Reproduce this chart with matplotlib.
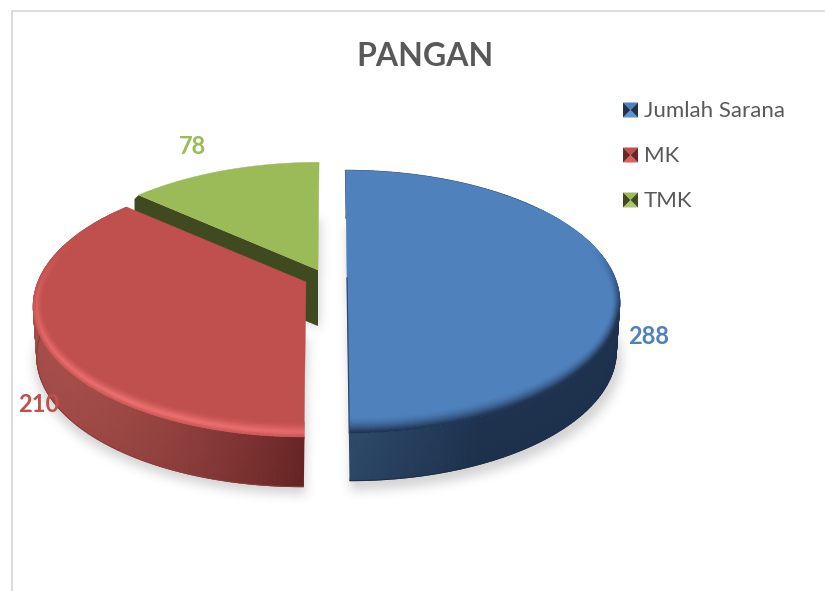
import numpy as np
import matplotlib
matplotlib.use("Agg")
import matplotlib.pyplot as plt
from matplotlib.colors import to_rgb
from matplotlib.path import Path

title = "PANGAN"
categories = ["Jumlah Sarana", "MK", "TMK"]
values = [288, 210, 78]

# colours per slice
top_colors = ["#4f81bd", "#c0504d", "#9bbb59"]
side_left = ["#2e4a6b", "#a84f4b", "#3f4a20"]
side_right = ["#1f3350", "#692626", "#3f4a20"]

# exploded slice geometry, in pixels
apex_x = [347, 306, 318]
apex_y = [278, 282, 270]
lean = [0.015, -0.013, -0.01]
depth = [48, 50, 56]
label_pos = [(649, 336), (39, 405), (193, 146)]
A, B, K = 268, 127, 0.179

fig = plt.figure(figsize=(8.25, 5.91), dpi=100)
ax = fig.add_axes([0, 0, 1, 1])
ax.set_xlim(0, 825)
ax.set_ylim(591, 0)
ax.axis("off")
plt.rcParams["font.family"] = ["Lato", "DejaVu Sans"]


def project(i, theta):
    u, v = np.cos(theta), np.sin(theta)
    d = 1 + K * v
    y = apex_y[i] - B * v / d
    x = apex_x[i] + A * u / d + lean[i] * (y - apex_y[i])
    return x, y


def mix(c1, c2, t):
    t = np.asarray(t)[..., None]
    return np.array(to_rgb(c1)) * (1 - t) + np.array(to_rgb(c2)) * t


def blur(img, size, passes=3):
    kernel = np.ones(size) / size
    for _ in range(passes):
        img = np.apply_along_axis(lambda r: np.convolve(r, kernel, mode="same"), 0, img)
        img = np.apply_along_axis(lambda r: np.convolve(r, kernel, mode="same"), 1, img)
    return img


# slice angles, clockwise from 12 o'clock
fractions = np.array(values) / sum(values)
ends = np.pi / 2 - 2 * np.pi * np.cumsum(fractions)
starts = np.r_[np.pi / 2, ends[:-1]]
thetas = [np.linspace(s, e, 160) for s, e in zip(starts, ends)]

# soft shadow below the slices
gx, gy = np.meshgrid(np.arange(825) + 0.5, np.arange(591) + 0.5)
grid = np.c_[gx.ravel(), gy.ravel()]
mask = np.zeros(gx.shape)
for i, th in enumerate(thetas):
    x, y = project(i, th)
    poly = np.c_[np.r_[x, apex_x[i]], np.r_[y, apex_y[i]] + 56]
    mask = np.maximum(mask, Path(poly).contains_points(grid).reshape(gx.shape))
mask = blur(mask, 10)
shadow = np.zeros(gx.shape + (4,))
shadow[..., :3] = 0.5
shadow[..., 3] = mask * 0.34
ax.imshow(shadow, extent=(0, 825, 591, 0), aspect="auto", zorder=1, interpolation="bilinear")
ax.set_xlim(0, 825)
ax.set_ylim(591, 0)

# chart frame
ax.plot([11.5, 11.5, 825], [591, 10.5, 10.5], color="#d9d9d9", lw=1.3, zorder=0)


def draw_side(i, z):
    th = thetas[i]
    x, y = project(i, th)
    xb = apex_x[i] + (x - apex_x[i]) * 0.985 + lean[i] * depth[i]
    yb = y + depth[i]
    X = np.vstack([x, xb])
    Y = np.vstack([y, yb])
    if i == 0:
        t = np.clip((x - 350) / 130, 0, 1)
    else:
        t = np.clip((x - 40) / 265, 0, 1) ** 1.6
    col = mix(side_left[i], side_right[i], t)
    C = np.stack([col, col * 0.95])
    ax.pcolormesh(X, Y, C, shading="gouraud", zorder=z)
    ax.plot(xb, yb, color=col.mean(axis=0) * 0.85, lw=0.7, zorder=z)


def draw_rim(i, z):
    # bevel along the front edge of the top face
    th = thetas[i]
    x, y = project(i, th)
    s = np.linspace(0, 1, 9)[:, None]
    tx, ty = (8, 15) if i == 0 else (10, 15)
    X = x[None, :] - tx * np.cos(th)[None, :] * (1 - s)
    Y = y[None, :] + ty * np.sin(th)[None, :] * (1 - s)
    base = np.array(to_rgb(top_colors[i]))
    C = np.zeros(X.shape + (3,))
    for j, sj in enumerate(s[:, 0]):
        if i == 0:
            front = np.clip((0.25 - np.sin(th)) / 0.55, 0, 1)
            C[j] = mix(top_colors[0], "#1f3350", front * sj ** 1.6)
        else:
            light = np.clip(np.cos(th - np.radians(240)), 0, 1) ** 1.3
            light = light * np.clip((0.55 - np.sin(th)) / 0.5, 0, 1)
            dark = np.clip(np.cos(th) / 0.3, 0, 1)
            peak = np.clip(sj / 0.7, 0, 1) ** 1.5 * (1 - np.clip((sj - 0.7) / 0.3, 0, 1) * 0.75)
            rim = base + (np.array(to_rgb("#f07474")) - base) * (light * peak)[:, None]
            C[j] = rim * (1 - (dark * sj)[:, None]) + np.array(to_rgb("#692626")) * (dark * sj)[:, None]
    keep = np.sin(th) < 0.6
    ax.pcolormesh(X[:, keep], Y[:, keep], C[:, keep], shading="gouraud", zorder=z)


z = 2
# TMK sits at the back, with its dark cut face showing
for i in [2, 1, 0]:
    th = thetas[i]
    x, y = project(i, th)
    if i == 2:
        tip_x, tip_y = x[0], y[0]
        ax.fill([tip_x - 4, tip_x, apex_x[i], apex_x[i], tip_x - 4],
                [tip_y + 4, tip_y, apex_y[i], apex_y[i] + depth[i], tip_y + depth[i]],
                color=side_right[i], zorder=z, lw=0)
    else:
        draw_side(i, z)
    ax.fill(np.r_[x, apex_x[i]], np.r_[y, apex_y[i]], color=top_colors[i], lw=0.3, zorder=z + 1)
    if i != 2:
        draw_rim(i, z + 2)
    if i == 0:
        # thin dark line on the lower half of the cut edge
        xe = np.array([apex_x[0], x[-1]])
        ye = np.array([apex_y[0], y[-1]])
        ax.plot(xe, ye, color="#2a4a75", lw=0.9, zorder=z + 3)
    z += 5

# data labels
for i, (lx, ly) in enumerate(label_pos):
    ax.text(lx, ly, str(values[i]), color=top_colors[i], fontsize=17, fontweight="bold",
            ha="center", va="center", zorder=40)

ax.text(425, 56, title, color="#595959", fontsize=23, fontweight="bold",
        ha="center", va="center", zorder=40)

# legend with the bevelled square keys
key_y = [110, 155, 200]
key_top = ["#5f93d3", "#d9605c", "#a9c96a"]
for i, name in enumerate(categories):
    x0, x1 = 623, 638
    y0, y1 = key_y[i] - 7.5, key_y[i] + 7.5
    xc, yc = (x0 + x1) / 2, key_y[i]
    ax.fill([x0, x1, xc], [y0, y0, yc], color=top_colors[i], lw=0, zorder=40)
    ax.fill([x0, x1, xc], [y1, y1, yc], color=key_top[i], lw=0, zorder=40)
    ax.fill([x0, x0, xc], [y0, y1, yc], color=side_right[i], lw=0, zorder=40)
    ax.fill([x1, x1, xc], [y0, y1, yc], color=side_right[i], lw=0, zorder=40)
    ax.text(644, key_y[i] + 1, name, color="#595959", fontsize=16, ha="left", va="center", zorder=40)

fig.savefig("out.png", dpi=100)
